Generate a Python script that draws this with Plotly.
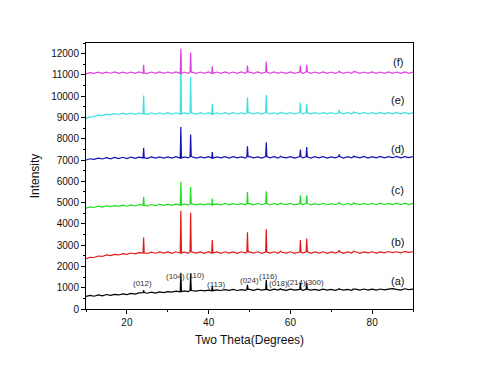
import plotly.graph_objects as go

# 2-theta grid for the baseline readings (10..90 degrees, step 1)
grid_2theta = list(range(10, 91))

# Peak positions (degrees)
peak_pos = [24.1, 33.2, 35.6, 40.9, 49.5, 54.1, 57.6, 62.45, 64.0, 71.95, 75.5]

# Baselines (one value per grid degree, noise included)
base_a = [590, 640, 600, 660, 620, 680, 640, 690, 660, 710,
          680, 730, 700, 760, 770, 740, 790, 750, 800, 770,
          820, 790, 840, 810, 850, 820, 870, 840, 880, 850,
          890, 860, 900, 870, 910, 880, 920, 870, 910, 880,
          920, 880, 930, 890, 920, 880, 930, 890, 920, 880,
          930, 890, 920, 880, 930, 890, 920, 880, 930, 890,
          920, 880, 930, 890, 920, 880, 930, 890, 940, 890,
          930, 890, 940, 900, 930, 960, 920, 890, 950, 910,
          930]
base_b = [2370, 2430, 2420, 2490, 2470, 2540, 2510, 2570, 2540, 2600,
          2570, 2630, 2590, 2650, 2630, 2610, 2670, 2620, 2680, 2630,
          2680, 2620, 2690, 2630, 2680, 2620, 2690, 2630, 2680, 2620,
          2690, 2630, 2680, 2620, 2690, 2630, 2680, 2620, 2690, 2630,
          2680, 2630, 2690, 2620, 2680, 2630, 2690, 2620, 2680, 2630,
          2690, 2620, 2680, 2630, 2690, 2620, 2680, 2630, 2690, 2620,
          2680, 2630, 2690, 2620, 2680, 2630, 2690, 2620, 2680, 2640,
          2690, 2630, 2680, 2640, 2700, 2650, 2690, 2640, 2700, 2660,
          2690]
base_c = [4740, 4800, 4770, 4830, 4790, 4850, 4810, 4860, 4820, 4880,
          4830, 4890, 4840, 4900, 4870, 4850, 4910, 4860, 4920, 4870,
          4930, 4870, 4940, 4880, 4940, 4880, 4950, 4890, 4940, 4890,
          4950, 4890, 4940, 4890, 4960, 4890, 4950, 4900, 4950, 4890,
          4950, 4890, 4960, 4900, 4950, 4890, 4960, 4900, 4950, 4900,
          4960, 4890, 4950, 4900, 4960, 4890, 4950, 4900, 4960, 4900,
          4950, 4900, 4960, 4890, 4960, 4900, 4950, 4900, 4960, 4900,
          4960, 4900, 4970, 4900, 4960, 4910, 4970, 4900, 4970, 4910,
          4960]
base_d = [7000, 7060, 7030, 7090, 7050, 7110, 7060, 7120, 7070, 7130,
          7070, 7140, 7080, 7140, 7100, 7080, 7150, 7090, 7150, 7090,
          7150, 7090, 7160, 7090, 7150, 7100, 7160, 7090, 7150, 7100,
          7160, 7090, 7150, 7100, 7160, 7090, 7160, 7100, 7150, 7090,
          7160, 7100, 7150, 7090, 7160, 7100, 7160, 7090, 7150, 7100,
          7160, 7090, 7160, 7100, 7150, 7090, 7160, 7100, 7160, 7090,
          7150, 7100, 7160, 7090, 7160, 7100, 7150, 7100, 7170, 7090,
          7160, 7100, 7170, 7100, 7160, 7110, 7170, 7100, 7160, 7110,
          7160]
base_e = [8960, 9030, 9040, 9110, 9090, 9160, 9120, 9180, 9140, 9200,
          9150, 9210, 9150, 9210, 9170, 9150, 9220, 9160, 9220, 9160,
          9225, 9160, 9220, 9165, 9225, 9160, 9220, 9160, 9230, 9165,
          9225, 9160, 9220, 9165, 9230, 9160, 9225, 9165, 9220, 9160,
          9230, 9165, 9225, 9160, 9230, 9165, 9220, 9160, 9230, 9170,
          9225, 9165, 9230, 9160, 9225, 9170, 9230, 9165, 9225, 9170,
          9230, 9165, 9225, 9170, 9235, 9165, 9230, 9170, 9235, 9165,
          9230, 9170, 9235, 9170, 9230, 9175, 9240, 9170, 9235, 9175,
          9230]
base_f = [11050, 11110, 11070, 11130, 11070, 11130, 11080, 11140, 11070, 11130,
          11075, 11135, 11070, 11140, 11080, 11070, 11135, 11075, 11140, 11070,
          11135, 11075, 11140, 11070, 11135, 11075, 11140, 11070, 11135, 11075,
          11140, 11070, 11135, 11075, 11140, 11070, 11135, 11070, 11140, 11075,
          11135, 11070, 11140, 11075, 11135, 11070, 11140, 11075, 11135, 11070,
          11140, 11075, 11135, 11070, 11140, 11075, 11135, 11070, 11140, 11075,
          11135, 11070, 11140, 11075, 11135, 11070, 11140, 11075, 11135, 11070,
          11140, 11075, 11135, 11070, 11140, 11075, 11135, 11070, 11140, 11075,
          11135]

# Peak heights (same order as peak_pos)
peaks_a = [890, 1700, 1640, 1050, 1130, 1360, 950, 1230, 1230, 960, 940]
peaks_b = [3360, 4620, 4520, 3240, 3600, 3750, 2720, 3240, 3310, 2760, 2720]
peaks_c = [5270, 5980, 5730, 5190, 5500, 5530, 4980, 5340, 5340, 5000, 4990]
peaks_d = [7580, 8550, 8200, 7380, 7650, 7830, 7180, 7490, 7610, 7270, 7200]
peaks_e = [10030, 12000, 10900, 9640, 9950, 10060, 9250, 9690, 9640, 9360, 9280]
peaks_f = [11480, 12240, 12050, 11400, 11440, 11630, 11150, 11440, 11480, 11200, 11170]

series_names = ["(a)", "(b)", "(c)", "(d)", "(e)", "(f)"]
series_colors = ["#000000", "#e31a1c", "#22dd22", "#1414b4", "#3ee0e0", "#e040e0"]
label_y = [1330, 3155, 5580, 7530, 9800, 11600]

hkl_labels = ["(012)", "(104)", "(110)", "(113)", "(024)", "(116)", "(018)", "(214)", "(300)"]
hkl_x = [23.8, 31.8, 36.7, 41.8, 50.0, 54.6, 57.0, 61.5, 66.0]
hkl_y = [1205, 1547, 1594, 1172, 1328, 1516, 1205, 1266, 1266]


def build(base, heights):
    pts = []
    for gx, gy in zip(grid_2theta, base):
        if min(abs(gx - p) for p in peak_pos) >= 0.5:
            pts.append((gx, gy))
    for p, h in zip(peak_pos, heights):
        b = base[int(round(p)) - grid_2theta[0]]
        pts += [(p - 0.15, b), (p, h), (p + 0.15, b)]
    pts.sort()
    return [q[0] for q in pts], [q[1] for q in pts]


fig = go.Figure()
for base, heights, name, color in zip(
        [base_a, base_b, base_c, base_d, base_e, base_f],
        [peaks_a, peaks_b, peaks_c, peaks_d, peaks_e, peaks_f],
        series_names, series_colors):
    xs, ys = build(base, heights)
    fig.add_trace(go.Scatter(x=xs, y=ys, mode="lines", name=name,
                             line=dict(color=color, width=1.2),
                             showlegend=False))

for name, ly in zip(series_names, label_y):
    fig.add_annotation(x=86.3, y=ly, text=name, showarrow=False,
                       font=dict(size=11, color="#111111"))

for t, hx, hy in zip(hkl_labels, hkl_x, hkl_y):
    fig.add_annotation(x=hx, y=hy, text=t, showarrow=False,
                       font=dict(size=8, color="#333333"))

axis_common = dict(showline=True, linecolor="black", linewidth=1, mirror=True,
                   showgrid=False, zeroline=False, ticks="outside", ticklen=4,
                   tickcolor="black", tickfont=dict(size=10, color="#111111"))

fig.update_layout(
    width=480, height=371,
    margin=dict(l=78, r=75, t=35, b=70),
    paper_bgcolor="white", plot_bgcolor="white",
    font=dict(family="Liberation Sans, Arial, sans-serif", color="#111111"),
    xaxis=dict(range=[10, 90], tick0=0, dtick=20,
               minor=dict(dtick=10, ticks="outside", ticklen=2, tickcolor="black"),
               title=dict(text="Two Theta(Degrees)", font=dict(size=12), standoff=8),
               **axis_common),
    yaxis=dict(range=[0, 12500], tick0=0, dtick=1000, tickformat="d",
               minor=dict(dtick=500, ticks="outside", ticklen=2, tickcolor="black"),
               title=dict(text="Intensity", font=dict(size=12), standoff=8),
               **axis_common),
)

fig.write_html("out.html")
